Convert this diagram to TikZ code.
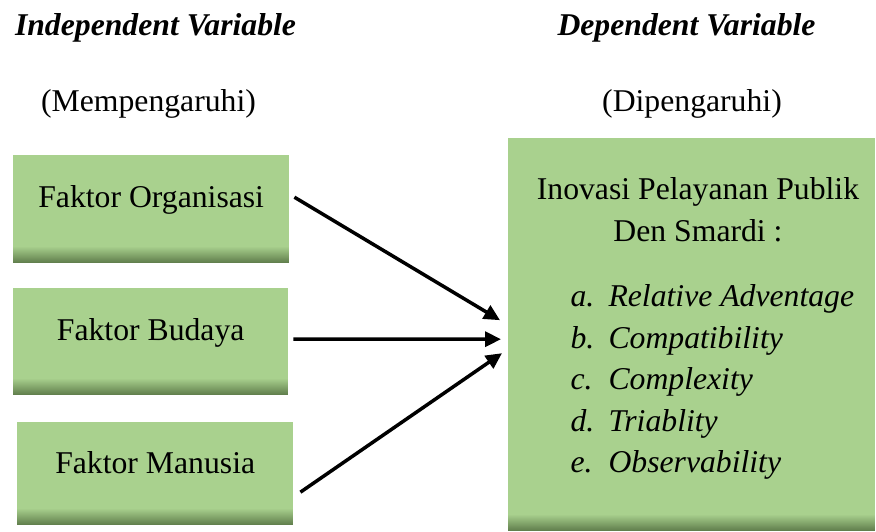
\documentclass[tikz,border=0pt]{standalone}
\usepackage{fontspec}
\setmainfont{Liberation Serif}
\usepackage{tikz}
\usetikzlibrary{arrows.meta,positioning}
\definecolor{boxgreen}{RGB}{169,209,142}
\definecolor{boxshade}{RGB}{98,128,78}
\newcommand{\bodysize}{\fontsize{31.7bp}{41.5bp}\selectfont}
\tikzset{varbox/.style={rectangle, fill=boxgreen, inner sep=0pt, text height=52bp, text depth=55bp,
    path picture={\foreach \k in {0,...,15}{
        \pgfmathtruncatemacro\pct{100-6.25*\k}
        \fill[boxshade!\pct!boxgreen] ([yshift=\k bp]path picture bounding box.south west)
          rectangle ([yshift=\k bp+1.1bp]path picture bounding box.south east);}}}}
\tikzset{link/.style={line width=3.5bp, -{Triangle[length=16bp,width=15bp]}}}

\begin{document}
\begin{tikzpicture}
[x=1bp, y=1bp, font=\bodysize]
\useasboundingbox (0,0) rectangle (876,532);
% headings
\node[anchor=base, font=\bodysize\bfseries\itshape] (ivtitle) at (155.5,496) {Independent Variable};
\node[anchor=base, font=\bodysize\bfseries\itshape] (dvtitle) at (686.5,496) {Dependent Variable};
\node[anchor=base] (ivnote) at (148.5,420) {(Mempengaruhi)};
\node[anchor=base] (dvnote) at (692,420) {(Dipengaruhi)};
% boxes
\node[varbox, minimum width=276bp, text depth=56bp, anchor=north west] (org) at (13,377) {Faktor Organisasi};
\node[varbox, minimum width=275bp, anchor=north west] (bud) at (13,244) {Faktor Budaya};
\node[varbox, minimum width=276bp, text height=51bp, text depth=52bp, anchor=north west] (man) at (17,110) {Faktor Manusia};
\node[varbox, minimum width=367bp, minimum height=393bp, text height=0pt, text depth=0pt, anchor=north west] (dv) at (508,394) {};
\node[anchor=base] (dvline1) at (698,332) {Inovasi Pelayanan Publik};
\node[anchor=base] (dvline2) at (698,290) {Den Smardi :};
\foreach \lbl/\txt [count=\i from 0] in {a/Relative Adventage, b/Compatibility, c/Complexity, d/Triablity, e/Observability} {
  \node[anchor=base west] (lbl\i) at (567,225-41.5*\i) {\itshape\lbl.};
  \node[anchor=base west] (item\i) at (605,225-41.5*\i) {\itshape\txt};
}
% arrows
\coordinate (in1) at ([shift={(-8,14.5)}]dv.west);
\coordinate (in2) at ([shift={(-7,-4.5)}]dv.west);
\coordinate (in3) at ([shift={(-6,-18.5)}]dv.west);
\draw[link] ([shift={(5,12)}]org.east) -- (in1);
\draw[link] ([shift={(5,2.5)}]bud.east) -- (in2);
\draw[link] ([shift={(7,-18.5)}]man.east) -- (in3);
\end{tikzpicture}
\end{document}
